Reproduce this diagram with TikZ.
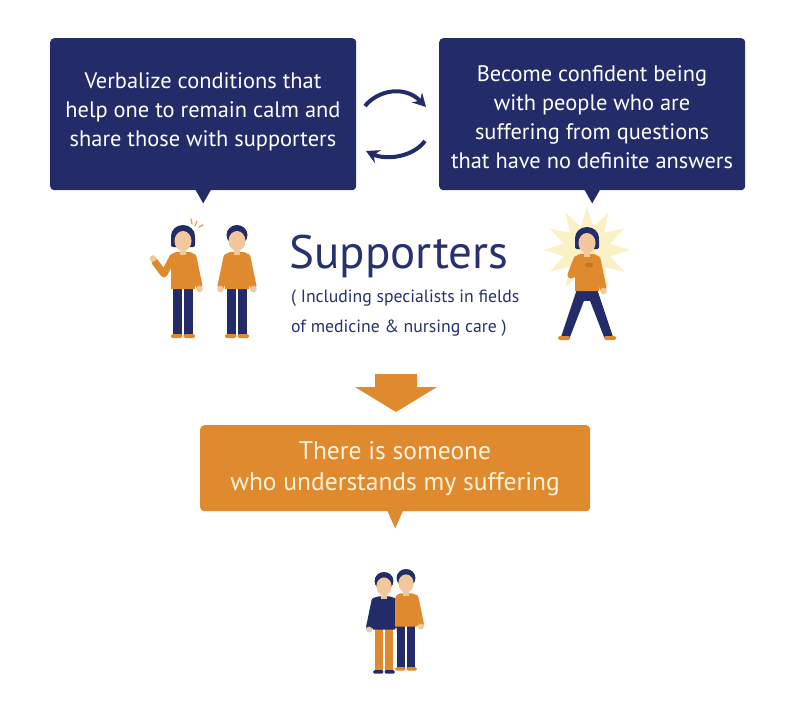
\documentclass[tikz,border=0pt]{standalone}
\usepackage{fontspec}
\setmainfont{PT Sans}
\usetikzlibrary{arrows.meta,calc}
\definecolor{navy}{HTML}{232C69}
\definecolor{orng}{HTML}{E08A30}
\definecolor{orngdk}{HTML}{C9741F}
\definecolor{skin}{HTML}{F2C79C}
\definecolor{cream}{HTML}{FFF3DC}
\definecolor{glow}{HTML}{FAF1C6}
\definecolor{txtnavy}{HTML}{27316E}
\definecolor{notice}{HTML}{E0A040}
\tikzset{
  navybox/.style={fill=navy, rounded corners=4pt, inner sep=0pt, anchor=north west},
  orngbox/.style={fill=orng, rounded corners=4pt, inner sep=0pt, anchor=north west},
  boxtext/.style={align=center, font=\fontsize{22.4}{29}\selectfont, inner sep=0pt},
  shirtfill/.style={fill=orng},
  shirtline/.style={draw=orng},
  pantsfill/.style={fill=navy},
  shoefill/.style={fill=orng},
  hairfill/.style={fill=navy},
  sleeve/.style={line width=7pt, line cap=round, line join=round},
  cyc/.style={draw=navy, line width=4pt, -{Stealth[length=13pt,width=14pt]}},
}
\newcommand{\headshort}{%
  \fill[skin] (-3,20) rectangle (3,30);
  \fill[hairfill] (0,10) ellipse[x radius=10.5, y radius=10];
  \fill[skin] (0,16) ellipse[x radius=8.5, y radius=10];
}
\newcommand{\headbob}{%
  \fill[skin] (-3,20) rectangle (3,30);
  \fill[hairfill] (0,11) ellipse[x radius=12, y radius=11];
  \fill[hairfill, rounded corners=2pt] (-12,11) rectangle (12,22);
  \fill[skin] (0,16) ellipse[x radius=8.5, y radius=10];
}
\newcommand{\torso}{%
  \fill[shirtfill] (-12,64) [rounded corners=6pt] -- (-12,27) -- (12,27) [sharp corners] -- (12,64) -- cycle;
}
\newcommand{\straightlegs}{%
  \fill[pantsfill] (-10,62) rectangle (-0.7,110);
  \fill[pantsfill] (0.7,62) rectangle (10,110);
  \fill[shoefill, rounded corners=1.5pt] (-12,109) rectangle (-0.7,113);
  \fill[shoefill, rounded corners=1.5pt] (0.7,109) rectangle (12,113);
}
\newcommand{\leftarmdown}{%
  \draw[sleeve, shirtline] (-10,32) -- (-16,61);
  \fill[skin] (-16.5,64) circle (3.3);
}
\newcommand{\rightarmdown}{%
  \draw[sleeve, shirtline] (10,32) -- (16,61);
  \fill[skin] (16.5,64) circle (3.3);
}
\begin{document}
\begin{tikzpicture}[x=1pt,y=-1pt]
\useasboundingbox (0,0) rectangle (800,720);
\fill[white] (0,0) rectangle (800,720);

% navy boxes
\node[navybox, minimum width=306pt, minimum height=152pt] (b1) at (50,38) {};
\fill[navy] ($(b1.south)+(-8,-1)$) -- ($(b1.south)+(8,-1)$) -- ($(b1.south)+(0,13)$) -- cycle;
\node[boxtext, text=white] (t1) at (203,112) {Verbalize conditions that\\help one to remain calm and\\share those with supporters};

\node[navybox, minimum width=306pt, minimum height=152pt] (b2) at (439,38) {};
\fill[navy] ($(b2.south)+(-8,-1)$) -- ($(b2.south)+(8,-1)$) -- ($(b2.south)+(0,13)$) -- cycle;
\node[boxtext, text=white] (t2) at (592,117) {Become confident being\\with people who are\\suffering from questions\\that have no definite answers};

% cycle arrows
\coordinate (c1s) at (365,106);
\coordinate (c1e) at (426,107);
\coordinate (c2s) at (425,141);
\coordinate (c2e) at (366,151);
\draw[cyc] (c1s) .. controls (378,90) and (405,85) .. (c1e);
\draw[cyc] (c2s) .. controls (412,158) and (385,160) .. (c2e);

% supporters text
\node[text=txtnavy, font=\fontsize{47}{50}\selectfont, inner sep=0pt] (sup) at (399,256) {Supporters};
\node[text=txtnavy, font=\fontsize{17.7}{30}\selectfont, align=left, anchor=west, inner sep=0pt] (par) at (291,313) {( Including specialists in fields\\of medicine \& nursing care )};

% left woman (waving)
\begin{scope}[shift={(183,225)}]
  \straightlegs
  \draw[sleeve, shirtline] (-10,32) -- (-19,49) -- (-28,37);
  \fill[skin] (-30,33.5) circle (3.3);
  \rightarmdown
  \torso
  \headbob
  \draw[notice, line width=1.2pt, line cap=round] (8,-6) -- (9,-1);
  \draw[notice, line width=1.2pt, line cap=round] (14,-4) -- (12,1);
  \draw[notice, line width=1.2pt, line cap=round] (16,2) -- (20,0);
\end{scope}

% man next to her
\begin{scope}[shift={(237,225)}]
  \straightlegs
  \leftarmdown
  \rightarmdown
  \torso
  \headshort
\end{scope}

% confident woman with glow
\begin{scope}[shift={(587,250)}]
  \fill[glow] (0:43) \foreach \a in {0,30,...,330}{ -- (\a:43) -- (\a+15:24)} -- cycle;
\end{scope}
\begin{scope}[shift={(587,227)}]
  \fill[pantsfill] (-10,62) rectangle (10,74);
  \fill[pantsfill] (-10,62) -- (0,66) -- (-17,110) -- (-26,110) -- cycle;
  \fill[pantsfill] (0,66) -- (10,62) -- (26,110) -- (17,110) -- cycle;
  \fill[shoefill, rounded corners=1.5pt] (-29,109) rectangle (-17,113);
  \fill[shoefill, rounded corners=1.5pt] (17,109) rectangle (29,113);
  \rightarmdown
  \torso
  \draw[sleeve, shirtline] (-10,32) -- (-16,48) -- (0,39);
  \fill[orngdk] (2,38) ellipse[x radius=4, y radius=2.5];
  \headbob
\end{scope}

% orange block arrow
\fill[orng] (375,374) -- (417,374) -- (417,387) -- (437,387) -- (396,412) -- (355,387) -- (375,387) -- cycle;

% orange box
\node[orngbox, minimum width=390pt, minimum height=86pt] (b3) at (200,425) {};
\fill[orng] ($(b3.south)+(-8,-1)$) -- ($(b3.south)+(8,-1)$) -- ($(b3.south)+(0,17)$) -- cycle;
\node[align=center, font=\fontsize{25.5}{31}\selectfont, inner sep=0pt, text=cream] (t3) at (395,469) {There is someone\\who understands my suffering};

% bottom pair
\begin{scope}[shift={(384,572)}, scale=0.9, shirtfill/.style={fill=navy}, shirtline/.style={draw=navy}, pantsfill/.style={fill=orng}, shoefill/.style={fill=navy}]
  \straightlegs
  \leftarmdown
  \rightarmdown
  \torso
  \headshort
\end{scope}
\begin{scope}[shift={(406,569)}, scale=0.9]
  \straightlegs
  \rightarmdown
  \torso
  \headshort
\end{scope}
\end{tikzpicture}
\end{document}
